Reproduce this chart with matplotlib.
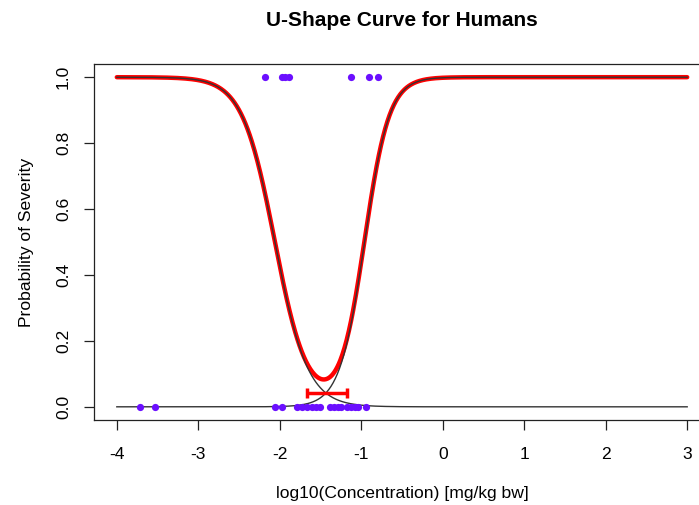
import numpy as np
import matplotlib
matplotlib.use("Agg")
import matplotlib.pyplot as plt

plt.rcParams["font.family"] = ["Liberation Sans", "DejaVu Sans"]

# ------------------------------------------------------------
# Data
# ------------------------------------------------------------

# observed responses (log10 dose) at severity 1 and 0
severe_x = [-2.18, -1.97, -1.93, -1.89, -1.12, -0.90, -0.80]
non_severe_x = [-3.71, -3.53, -2.06, -1.97, -1.79, -1.73, -1.67, -1.61,
                -1.55, -1.51, -1.38, -1.34, -1.29, -1.25, -1.18, -1.13,
                -1.08, -1.04, -0.94]

# fitted logistic parameters: decreasing and increasing arm
low_mid, low_slope = -2.06, 5.0
high_mid, high_slope = -0.96, 6.6

# interval for the minimum
ci_low, ci_high = -1.66, -1.17
ci_y = 0.042

x_ticks = [-4, -3, -2, -1, 0, 1, 2, 3]
y_ticks = [0.0, 0.2, 0.4, 0.6, 0.8, 1.0]
y_tick_labels = ["0.0", "0.2", "0.4", "0.6", "0.8", "1.0"]


def main():
    grid = np.linspace(-4, 3, 800)
    p_low = 1 / (1 + np.exp(low_slope * (grid - low_mid)))
    p_high = 1 / (1 + np.exp(-high_slope * (grid - high_mid)))
    p_u = p_low + p_high

    fig = plt.figure(figsize=(6.99, 5.05), dpi=100)
    ax = fig.add_axes([94 / 699, 85 / 505, 616 / 699, 356 / 505])

    ax.plot(grid, p_u, color="red", lw=3.2, zorder=2, solid_capstyle="round")
    ax.plot(grid, p_low, color="#333333", lw=1.0, zorder=3)
    ax.plot(grid, p_high, color="#333333", lw=1.0, zorder=3)

    ax.errorbar([(ci_low + ci_high) / 2], [ci_y], xerr=[[(ci_high - ci_low) / 2]],
                fmt="none", ecolor="red", elinewidth=2.5, capsize=3.5,
                capthick=2.5, zorder=4)

    ax.plot(severe_x, np.ones(len(severe_x)), "o", color="#6b0fff",
            ms=5.2, mec="none", zorder=5)
    ax.plot(non_severe_x, np.zeros(len(non_severe_x)), "o", color="#6b0fff",
            ms=5.2, mec="none", zorder=5)

    ax.set_xlim(-4.28, 3.28)
    ax.set_ylim(-0.04, 1.04)
    ax.set_xticks(x_ticks)
    ax.set_xticklabels([str(t) for t in x_ticks])
    ax.set_yticks(y_ticks)
    ax.set_yticklabels(y_tick_labels, rotation=90, va="center")

    ax.tick_params(axis="both", direction="out", length=7.5, width=0.9,
                   labelsize=12.6, color="#222222")
    ax.tick_params(axis="x", pad=12)
    ax.tick_params(axis="y", pad=9)
    for side in ["top", "bottom", "left", "right"]:
        ax.spines[side].set_linewidth(0.9)
        ax.spines[side].set_color("#222222")

    ax.set_xlabel("log10(Concentration) [mg/kg bw]", fontsize=12.6, labelpad=17)
    ax.set_ylabel("Probability of Severity", fontsize=12.6, labelpad=16)

    fig.text(402 / 699, 1 - 21 / 505, "U-Shape Curve for Humans",
             fontsize=15, fontweight="bold", ha="center", va="center")

    fig.savefig("out.png", dpi=100)
    plt.close(fig)


if __name__ == "__main__":
    main()
